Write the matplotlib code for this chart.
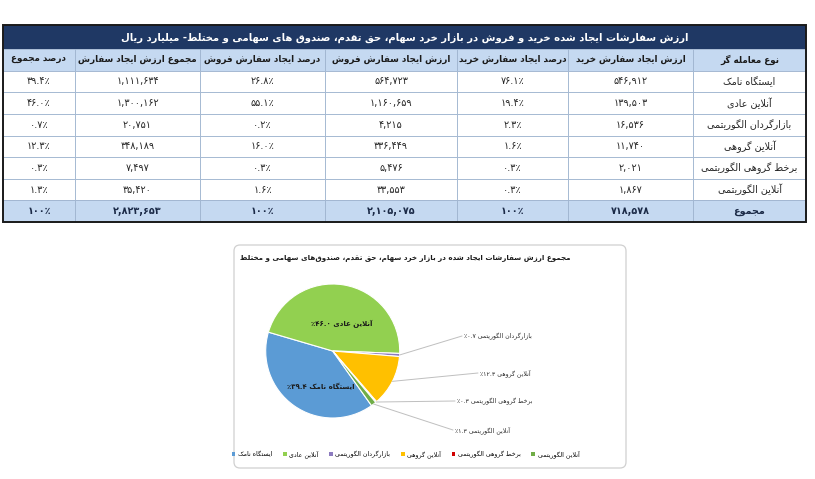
import re
import numpy as np
import matplotlib
matplotlib.use('Agg')
import matplotlib.pyplot as plt
from matplotlib import font_manager
from matplotlib.ft2font import FT2Font
from matplotlib.patches import Rectangle, FancyBboxPatch

# ---------------- data ----------------
table_title = 'ارزش سفارشات ایجاد شده خرید و فروش در بازار خرد سهام، حق تقدم، صندوق های سهامی و مختلط- میلیارد ریال'
columns = ['نوع معامله گر', 'ارزش ایجاد سفارش خرید', 'درصد ایجاد سفارش خرید',
           'ارزش ایجاد سفارش فروش', 'درصد ایجاد سفارش فروش',
           'مجموع ارزش ایجاد سفارش', 'درصد مجموع']
trader_types = ['ایستگاه نامک', 'آنلاین عادی', 'بازارگردان الگوریتمی',
                'آنلاین گروهی', 'برخط گروهی الگوریتمی', 'آنلاین الگوریتمی']
buy_value = [546912, 139503, 16536, 11740, 2021, 1867]
buy_pct = [76.1, 19.4, 2.3, 1.6, 0.3, 0.3]
sell_value = [564723, 1160659, 4215, 336449, 5476, 33553]
sell_pct = [26.8, 55.1, 0.2, 16.0, 0.3, 1.6]
total_value = [1111634, 1300162, 20751, 348189, 7497, 35420]
total_pct = [39.4, 46.0, 0.7, 12.3, 0.3, 1.3]
sum_label = 'مجموع'
sum_buy, sum_sell, sum_total, sum_pct = 718578, 2105075, 2823653, 100

pie_title = 'مجموع ارزش سفارشات ایجاد شده در بازار خرد سهام، حق تقدم، صندوق\u200cهای سهامی و مختلط'
pie_colors = ['#5B9BD5', '#92D050', '#8C7BBF', '#FFC000', '#D00000', '#70AD47']

# ---------------- Persian shaping ----------------
FONT = 'DejaVu Sans'


def _charmap(weight):
    path = font_manager.findfont(font_manager.FontProperties(family=FONT, weight=weight))
    return set(FT2Font(path).get_charmap().keys())


CMAP = _charmap('normal') & _charmap('bold')


def _d(b):
    return (b, b + 1, b + 2, b + 3)


def _r(b):
    return (b, b + 1, None, None)


FORMS = {0x0621: (0xFE80, None, None, None), 0x0622: _r(0xFE81), 0x0623: _r(0xFE83),
         0x0624: _r(0xFE85), 0x0625: _r(0xFE87), 0x0626: _d(0xFE89), 0x0627: _r(0xFE8D),
         0x0628: _d(0xFE8F), 0x0629: _r(0xFE93), 0x062A: _d(0xFE95), 0x062B: _d(0xFE99),
         0x062C: _d(0xFE9D), 0x062D: _d(0xFEA1), 0x062E: _d(0xFEA5), 0x062F: _r(0xFEA9),
         0x0630: _r(0xFEAB), 0x0631: _r(0xFEAD), 0x0632: _r(0xFEAF), 0x0633: _d(0xFEB1),
         0x0634: _d(0xFEB5), 0x0635: _d(0xFEB9), 0x0636: _d(0xFEBD), 0x0637: _d(0xFEC1),
         0x0638: _d(0xFEC5), 0x0639: _d(0xFEC9), 0x063A: _d(0xFECD), 0x0641: _d(0xFED1),
         0x0642: _d(0xFED5), 0x0643: _d(0xFED9), 0x0644: _d(0xFEDD), 0x0645: _d(0xFEE1),
         0x0646: _d(0xFEE5), 0x0647: _d(0xFEE9), 0x0648: _r(0xFEED), 0x0649: _r(0xFEEF),
         0x064A: _d(0xFEF1), 0x067E: _d(0xFB56), 0x0686: _d(0xFB7A), 0x0698: _r(0xFB8A),
         0x06A9: _d(0xFB8E), 0x06AF: _d(0xFB92), 0x06CC: _d(0xFBFC)}
FALLBACK = {0x06CC: (0xFEEF, 0xFEF0, 0xFEF3, 0xFEF4), 0x06A9: _d(0xFED9), 0x06AF: _d(0xFED9),
            0x067E: _d(0xFE8F), 0x0686: _d(0xFE9D), 0x0698: _r(0xFEAF)}
LAM_ALEF = {0x0622: (0xFEF5, 0xFEF6), 0x0623: (0xFEF7, 0xFEF8),
            0x0625: (0xFEF9, 0xFEFA), 0x0627: (0xFEFB, 0xFEFC)}


def _dual(cp):
    return cp in FORMS and FORMS[cp][2] is not None


def _joins_prev(cp):
    return cp in FORMS and FORMS[cp][1] is not None


def shape(s):
    cps = [ord(c) for c in s]
    out, i, n = [], 0, len(cps)
    while i < n:
        cp = cps[i]
        if cp not in FORMS:
            if cp != 0x200C:
                out.append(chr(cp))
            i += 1
            continue
        prev = cps[i - 1] if i > 0 else None
        jp = prev is not None and _dual(prev) and _joins_prev(cp)
        if cp == 0x0644 and i + 1 < n and cps[i + 1] in LAM_ALEF:
            g = LAM_ALEF[cps[i + 1]][1 if jp else 0]
            out.append(chr(g) if g in CMAP else chr(cp) + chr(cps[i + 1]))
            i += 2
            continue
        nxt = cps[i + 1] if i + 1 < n else None
        jn = _dual(cp) and nxt is not None and _joins_prev(nxt)
        idx = 3 if (jp and jn) else 1 if jp else 2 if jn else 0
        g = FORMS[cp][idx]
        if g is None:
            g = FORMS[cp][0]
        if g not in CMAP:
            fb = FALLBACK.get(cp)
            if fb and fb[idx] is not None and fb[idx] in CMAP:
                g = fb[idx]
            else:
                g = cp
        out.append(chr(g))
        i += 1
    return ''.join(out)


NUM = re.compile(r'[0-9\u06F0-\u06F9]+(?:[.,\u066B\u066C][0-9\u06F0-\u06F9]+)*[%\u066A]?')


def rtl(s, pct_left=False):
    tokens, pos = [], 0
    for m in NUM.finditer(s):
        tokens.extend(list(s[pos:m.start()]))
        run = m.group()
        if pct_left and run[-1] in '%\u066A':
            tokens.append(run[:-1])
            tokens.append(run[-1])
        else:
            tokens.append(run)
        pos = m.end()
    tokens.extend(list(s[pos:]))
    return ''.join(reversed(tokens))


def fa(s, pct_left=False):
    return rtl(shape(s), pct_left)


DIG = str.maketrans('0123456789', '۰۱۲۳۴۵۶۷۸۹')
PCT = '\u066A' if 0x066A in CMAP else '%'


def fa_num(v):
    return format(v, ',').translate(DIG)


def fa_pct(v):
    txt = f'{v:.1f}' if v != 100 else '100'
    return txt.translate(DIG) + PCT


# ---------------- figure ----------------
W, H = 815, 479
fig = plt.figure(figsize=(W / 100, H / 100), dpi=100)
plt.rcParams['font.family'] = [FONT]
ax = fig.add_axes([0, 0, 1, 1])
ax.set_xlim(0, W)
ax.set_ylim(H, 0)
ax.axis('off')

# table geometry (pixels)
tx0, tx1 = 3, 806
ty_title, ty_head, ty_bot = 25, 49, 222
col_w = [72, 125, 125, 132, 111, 125, 113]   # displayed left -> right

rows = [[fa(c) for c in columns]]
for k in range(len(trader_types)):
    rows.append([fa(trader_types[k]), fa_num(buy_value[k]), fa_pct(buy_pct[k]),
                 fa_num(sell_value[k]), fa_pct(sell_pct[k]),
                 fa_num(total_value[k]), fa_pct(total_pct[k])])
rows.append([fa(sum_label), fa_num(sum_buy), fa_pct(sum_pct), fa_num(sum_sell),
             fa_pct(sum_pct), fa_num(sum_total), fa_pct(sum_pct)])
cell_text = [r[::-1] for r in rows]   # right-to-left layout

tbl = ax.table(cellText=cell_text, colWidths=[w / sum(col_w) for w in col_w],
               cellLoc='center',
               bbox=[tx0 / W, 1 - ty_bot / H, (tx1 - tx0) / W, (ty_bot - ty_head) / H])
tbl.auto_set_font_size(False)
tbl.set_fontsize(6.9)
nrows = len(cell_text)
for (r, c), cell in tbl.get_celld().items():
    cell.set_edgecolor('#9FB4CF')
    cell.set_linewidth(0.6)
    t = cell.get_text()
    if r == 0:
        cell.set_facecolor('#C5D9F1')
        t.set_fontweight('bold')
        t.set_fontsize(6.3)
        t.set_color('#1a1a1a')
    elif r == nrows - 1:
        cell.set_facecolor('#C5D9F1')
        t.set_fontweight('bold')
        t.set_color('#1B2A47')
    else:
        cell.set_facecolor('white')
        t.set_color('#262626')

ax.add_patch(Rectangle((tx0, ty_title), tx1 - tx0, ty_head - ty_title,
                       facecolor='#1F3864', edgecolor='none', zorder=3))
ax.text((tx0 + tx1) / 2, (ty_title + ty_head) / 2 + 0.5, fa(table_title), color='white',
        fontsize=7.2, fontweight='bold', ha='center', va='center', zorder=4)
ax.add_patch(Rectangle((tx0, ty_title), tx1 - tx0, ty_bot - ty_title, fill=False,
                       edgecolor='#1a1a1a', linewidth=1.4, zorder=5))

# chart box
ax.add_patch(FancyBboxPatch((234, 245), 392, 223, boxstyle='round,pad=0,rounding_size=6',
                            facecolor='white', edgecolor='#D0D0D0', linewidth=0.9))
ax.text(405, 258, fa(pie_title), fontsize=5.1, fontweight='bold', color='#1a1a1a',
        ha='center', va='center')

# pie
cx, cy, rad = 332.7, 351, 67
axp = fig.add_axes([(cx - rad) / W, 1 - (cy + rad) / H, 2 * rad / W, 2 * rad / H])
axp.patch.set_alpha(0)
wedges, _ = axp.pie(total_value, colors=pie_colors, startangle=-54.6, counterclock=False,
                    radius=1, wedgeprops=dict(edgecolor='white', linewidth=0.8))
axp.set_xlim(-1, 1)
axp.set_ylim(-1, 1)
axp.axis('off')


def px2d(px, py):
    return (px - cx) / rad, (cy - py) / rad


inside_pos = {0: (321, 387), 1: (342, 324)}
outside_pos = {2: (462, 336), 3: (478, 373), 4: (455, 401), 5: (453, 430)}
for k, w in enumerate(wedges):
    label = fa(trader_types[k] + ' ' + fa_pct(total_pct[k]), pct_left=True)
    if k in inside_pos:
        x, y = px2d(*inside_pos[k])
        axp.text(x, y, label, fontsize=5, fontweight='bold', color='#1a1a1a',
                 ha='center', va='center')
    else:
        ang = np.deg2rad((w.theta1 + w.theta2) / 2)
        ex, ey = np.cos(ang), np.sin(ang)
        x, y = px2d(*outside_pos[k])
        axp.annotate('', xy=(ex, ey), xytext=(x, y), annotation_clip=False,
                     arrowprops=dict(arrowstyle='-', color='#BFBFBF', lw=0.7,
                                     shrinkA=0, shrinkB=0))
        axp.text(x + 2 / rad, y, label, fontsize=4.4, color='#262626',
                 ha='left', va='center', clip_on=False)

leg = axp.legend(wedges, [fa(t) for t in trader_types], ncol=6, frameon=False,
                 loc='center', bbox_to_anchor=(405.5 / W, 1 - 454 / H),
                 bbox_transform=fig.transFigure, fontsize=4.5, handlelength=0.6,
                 handleheight=0.6, handletextpad=0.4, columnspacing=1.7)
for h in leg.legend_handles:
    h.set_edgecolor('none')

fig.savefig('out.png', dpi=100, facecolor='white')
